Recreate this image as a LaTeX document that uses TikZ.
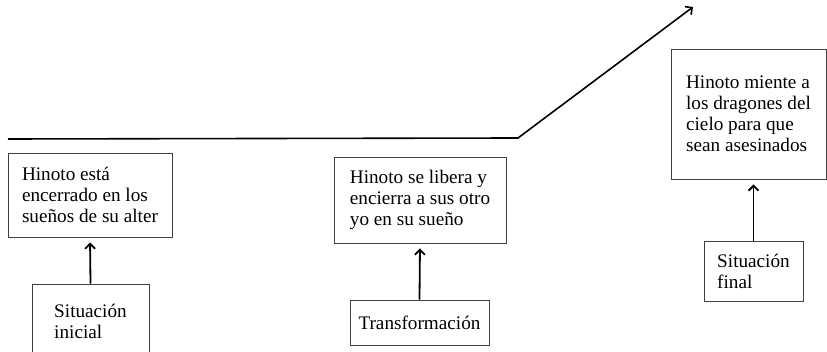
\documentclass[tikz,border=0pt]{standalone}
\usepackage{fontspec}
\setmainfont{Liberation Serif}
\usetikzlibrary{arrows.meta}

\tikzset{
    etapa/.style={draw=black!75, line width=0.9pt, align=left, inner sep=0pt,
        font=\fontsize{19.2}{21}\selectfont},
    flecha/.style={-{Straight Barb[length=5pt,width=10pt]}, line width=1.8pt, shorten >=5pt},
}

\begin{document}
\begin{tikzpicture}[x=1pt, y=-1pt]
    \clip (0,0) rectangle (827,352);

    % Rising line
    \coordinate (inicio) at (8,139);
    \coordinate (quiebre) at (518,138);
    \coordinate (cima) at (693,7);
    \draw[line width=1.6pt, -{Straight Barb[length=5pt,width=10pt]}] (inicio) -- (quiebre) -- (cima);

    % Stages
    \node[etapa, minimum width=164, minimum height=84] (encierro) at (90,195)
        {Hinoto está\\encerrado en los\\sueños de su alter};
    \node[etapa, minimum width=172, minimum height=86] (libera) at (420,200)
        {Hinoto se libera y\\encierra a sus otro\\yo en su sueño};
    \node[etapa, minimum width=155, minimum height=130] (miente) at (748.5,114)
        {Hinoto miente a\\los dragones del\\cielo para que\\sean asesinados};

    % Labels
    \node[etapa, minimum width=117, minimum height=74] (sinicial) at (90.5,321)
        {Situación\\inicial};
    \node[etapa, minimum width=139, minimum height=45] (stransf) at (419.5,322.5)
        {Transformación};
    \node[etapa, minimum width=99, minimum height=60] (sfinal) at (753.5,271)
        {Situación\\final};

    % Arrows
    \draw[flecha] (sinicial.north) -- (encierro.south);
    \draw[flecha] (stransf.north) -- (libera.south);
    \draw[flecha] (sfinal.north) -- (sfinal.north |- miente.south);
\end{tikzpicture}
\end{document}
